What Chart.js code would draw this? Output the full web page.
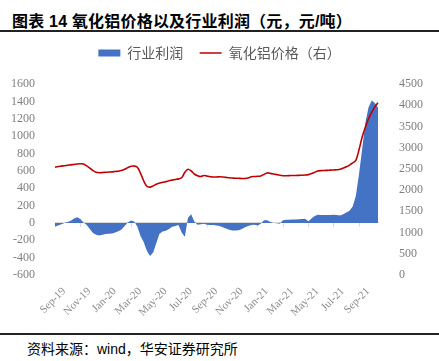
<!DOCTYPE html>
<html><head><meta charset="utf-8">
<script src="https://cdn.jsdelivr.net/npm/chart.js@4/dist/chart.umd.min.js"></script>
<style>
html,body{margin:0;padding:0;background:#fff;width:439px;height:361px;overflow:hidden;position:relative;}
#title{position:absolute;left:12px;top:8px;font:bold 16px "Liberation Sans","Noto Sans CJK SC",sans-serif;color:#000;white-space:nowrap;letter-spacing:0.2px;}
#l1{position:absolute;left:0;top:30px;width:439px;height:1.5px;background:#222;}
#l2{position:absolute;left:0;top:333px;width:439px;height:1.5px;background:#222;}
#src{position:absolute;left:27px;top:338px;font:14px "Liberation Sans","Noto Sans CJK SC",sans-serif;color:#000;white-space:nowrap;}
#wrap{position:absolute;left:0;top:36px;width:439px;height:285px;}
</style></head>
<body>
<div id="title">图表 14 氧化铝价格以及行业利润（元，元/吨）</div>
<div id="l1"></div>
<div id="wrap"><canvas id="c"></canvas></div>
<div id="l2"></div>
<div id="src">资料来源：wind，华安证券研究所</div>
<script>
// tick labels shown on the axis (every 2 months)
const tickLabels = ['Sep-19','Nov-19','Jan-20','Mar-20','May-20','Jul-20','Sep-20','Nov-20','Jan-21','Mar-21','May-21','Jul-21','Sep-21'];
// categories: weekly points, Sep-2019 .. mid Oct-2021
const monthNames = ['Sep-19','Oct-19','Nov-19','Dec-19','Jan-20','Feb-20','Mar-20','Apr-20','May-20','Jun-20','Jul-20','Aug-20','Sep-20','Oct-20','Nov-20','Dec-20','Jan-21','Feb-21','Mar-21','Apr-21','May-21','Jun-21','Jul-21','Aug-21','Sep-21','Oct-21'];
const categories = [];
monthNames.forEach(m => { for (let w = 1; w <= 4; w++) categories.push(m + ' W' + w); });
categories.length = 103;

// 行业利润 (元/吨), left axis
const profit = [
 -40,-30,-15,0,10,25,50,65,45,5,
 -25,-70,-115,-135,-145,-135,-128,-125,-122,-110,
 -95,-75,-35,5,28,15,-40,-150,-220,-320,
 -380,-340,-230,-125,-100,-90,-70,-45,-35,-25,
 -110,-160,60,100,15,-20,-15,-10,-20,-25,
 -25,-30,-35,-50,-65,-80,-88,-88,-85,-70,
 -50,-35,-25,-20,-30,-10,30,30,10,0,
 -5,-10,30,35,35,38,40,42,45,48,
 20,50,80,95,92,90,92,90,95,90,
 85,100,120,140,190,310,560,850,1150,1330,
 1410,1380,1330
];
// 氧化铝价格 (元/吨), right axis
const price = [
 2540,2555,2565,2575,2585,2595,2605,2615,2620,2615,
 2570,2520,2460,2420,2410,2415,2420,2425,2430,2440,
 2445,2460,2490,2530,2560,2565,2540,2400,2220,2090,
 2070,2100,2140,2165,2185,2200,2220,2235,2250,2265,
 2290,2420,2490,2450,2380,2340,2320,2345,2330,2315,
 2310,2310,2315,2310,2300,2290,2285,2280,2278,2275,
 2275,2285,2315,2320,2325,2335,2370,2405,2395,2380,
 2365,2350,2340,2340,2342,2345,2345,2348,2350,2355,
 2365,2390,2420,2450,2460,2463,2466,2470,2475,2480,
 2490,2520,2550,2590,2640,2700,2950,3250,3480,3680,
 3830,3960,4060
];

const tickCb = (v, i) => (i % 8 === 0 ? tickLabels[i / 8] : null);

const legendPad = {
  id: 'legendPad',
  beforeLayout(chart) {
    const lg = chart.legend;
    if (lg && !lg._padded) {
      const orig = lg.fit;
      lg.fit = function () { orig.call(this); this.height = 48; };
      lg._padded = true;
    }
  }
};

new Chart(document.getElementById('c'), {
  type: 'line',
  data: {
    labels: categories,
    datasets: [
      { label: '行业利润', data: profit, yAxisID: 'y', xAxisID: 'x', fill: 'origin',
        backgroundColor: '#4472C4', borderWidth: 0, borderColor: '#4472C4', pointRadius: 0, tension: 0, order: 2 },
      { label: '氧化铝价格（右）', data: price, yAxisID: 'y1', xAxisID: 'x', fill: false,
        borderColor: '#C00000', borderWidth: 1.6, pointRadius: 0, tension: 0.3, order: 1 }
    ]
  },
  plugins: [legendPad],
  options: {
    responsive: true, maintainAspectRatio: false, animation: false,
    layout: { padding: { top: 0, left: 0, right: 0, bottom: 0 } },
    plugins: {
      tooltip: { enabled: false },
      legend: {
        position: 'top',
        labels: {
          font: { family: '"Noto Sans CJK SC"', size: 14 },
          color: '#595959',
          usePointStyle: true, pointStyleWidth: 22, boxHeight: 7, padding: 10,
          generateLabels: (chart) => [
            { text: '行业利润  ', fillStyle: '#4472C4', strokeStyle: '#4472C4', lineWidth: 0, pointStyle: 'rect', datasetIndex: 0, hidden: false, fontColor: '#595959' },
            { text: '氧化铝价格（右）', fillStyle: '#C00000', strokeStyle: '#C00000', lineWidth: 1.5, pointStyle: 'line', datasetIndex: 1, hidden: false, fontColor: '#595959' }
          ]
        }
      }
    },
    scales: {
      x: {
        type: 'category', position: 'bottom',
        grid: { display: false }, border: { display: false },
        afterFit: s => { s.height = 46; },
        ticks: { autoSkip: false, minRotation: 45, maxRotation: 45, padding: 2, labelOffset: 9,
          color: '#8c8c8c', font: { family: '"Liberation Serif"', size: 11 }, callback: tickCb }
      },
      x2: {
        type: 'category', axis: 'x', position: { y: 0 }, z: 1,
        grid: { display: true, drawOnChartArea: false, drawTicks: true, tickLength: 4, color: '#d9d9d9' },
        border: { display: true, color: '#d9d9d9', width: 1 },
        ticks: { autoSkip: false, display: false, callback: tickCb }
      },
      y: {
        position: 'left', min: -600, max: 1600,
        grid: { display: false }, border: { display: false },
        afterFit: s => { s.width = 55; },
        ticks: { stepSize: 200, autoSkip: false, padding: 12, color: '#7f7f7f', font: { family: '"Liberation Serif"', size: 12 },
          callback: v => String(v) }
      },
      y1: {
        position: 'right', min: 0, max: 4500,
        grid: { display: false }, border: { display: false },
        afterFit: s => { s.width = 61; },
        ticks: { stepSize: 500, autoSkip: false, padding: 13, color: '#7f7f7f', font: { family: '"Liberation Serif"', size: 12 },
          callback: v => String(v) }
      }
    }
  }
});
</script>
</body></html>
